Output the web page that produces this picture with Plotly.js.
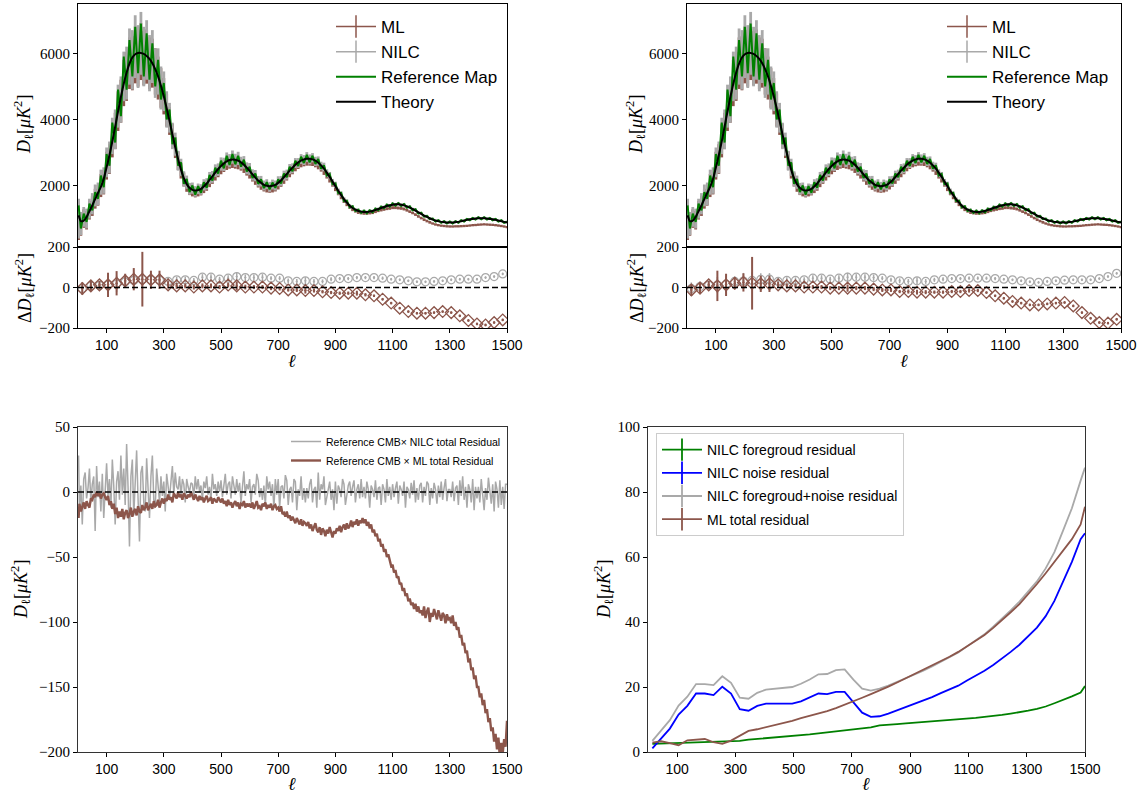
<!DOCTYPE html>
<html><head><meta charset="utf-8">
<script src="https://cdn.plot.ly/plotly-3.0.1.min.js"></script>
<style>html,body{margin:0;padding:0;background:#fff}#plot{width:1143px;height:794px}</style>
</head><body><div id="plot"></div>
<script>
// ---------- multipole grid for the spectra (top panels) ----------
const ell = [2,10,20,30,40,50,60,70,80,90,
100,110,120,130,140,150,160,170,180,190,
200,210,220,230,240,250,260,270,280,290,
300,310,320,330,340,350,360,370,380,390,
400,410,420,430,440,450,460,470,480,490,
500,510,520,530,540,550,560,570,580,590,
600,610,620,630,640,650,660,670,680,690,
700,710,720,730,740,750,760,770,780,790,
800,810,820,830,840,850,860,870,880,890,
900,910,920,930,940,950,960,970,980,990,
1000,1010,1020,1030,1040,1050,1060,1070,1080,1090,
1100,1110,1120,1130,1140,1150,1160,1170,1180,1190,
1200,1210,1220,1230,1240,1250,1260,1270,1280,1290,
1300,1310,1320,1330,1340,1350,1360,1370,1380,1390,
1400,1410,1420,1430,1440,1450,1460,1470,1480,1490,
1500];

const theory = [1100,920,940,1050,1220,1400,1590,1780,1960,2200,
2550,2920,3330,3780,4240,4680,5080,5420,5690,5870,
5970,6010,6010,5980,5920,5830,5700,5520,5300,5020,
4700,4340,3950,3550,3160,2800,2480,2220,2040,1930,
1870,1850,1860,1900,1970,2060,2170,2280,2390,2500,
2590,2670,2730,2770,2790,2780,2750,2700,2630,2540,
2440,2340,2240,2150,2080,2020,1990,1980,1990,2020,
2080,2160,2250,2350,2450,2540,2630,2700,2750,2790,
2810,2810,2790,2750,2690,2610,2510,2390,2260,2120,
1980,1840,1710,1590,1480,1390,1320,1270,1230,1210,
1200,1200,1210,1230,1260,1290,1320,1350,1380,1400,
1420,1430,1430,1420,1400,1370,1330,1290,1240,1190,
1140,1090,1050,1010,970,940,920,900,890,880,
880,880,890,900,920,940,960,980,990,1000,
1010,1010,1010,1000,990,980,960,940,920,900,
880];

const refMap = [1400,700,1150,900,1450,1250,1800,1600,2300,1950,
2950,2600,3900,3300,4900,4100,5900,4900,6400,5300,
6800,5400,6900,5300,6600,5200,6300,5000,5800,4600,
5100,4000,4300,3250,3450,2600,2700,2050,2200,1800,
2000,1720,1980,1780,2100,1930,2320,2150,2540,2360,
2750,2520,2900,2620,2950,2640,2900,2570,2780,2420,
2570,2230,2360,2050,2190,1920,2100,1880,2090,1930,
2190,2060,2360,2250,2570,2430,2750,2590,2870,2680,
2930,2700,2900,2650,2800,2510,2610,2300,2350,2040,
2060,1770,1780,1530,1540,1340,1370,1230,1270,1170,
1240,1160,1250,1190,1300,1250,1360,1310,1420,1360,
1460,1390,1470,1380,1440,1330,1370,1250,1280,1150,
1180,1060,1080,980,1000,910,950,870,920,850,
910,850,920,870,950,910,990,950,1020,970,
1040,980,1040,970,1020,950,990,910,950,870,
910];

const nilc = [1000,850,1050,1000,1300,1450,1700,1750,2100,2150,
2700,2850,3500,3700,4400,4600,5300,5400,5900,5800,
6200,5900,6300,5900,6100,5700,5900,5400,5450,4950,
4850,4300,4050,3500,3250,2750,2550,2200,2100,1900,
1920,1820,1900,1880,2020,2050,2230,2260,2450,2480,
2650,2640,2800,2750,2860,2760,2820,2680,2700,2520,
2500,2320,2300,2130,2130,2000,2040,1960,2030,2000,
2130,2140,2300,2330,2500,2520,2680,2680,2800,2770,
2860,2790,2840,2730,2740,2590,2560,2370,2300,2100,
2020,1820,1740,1570,1510,1370,1350,1260,1250,1200,
1220,1190,1230,1220,1280,1280,1340,1340,1400,1390,
1440,1420,1450,1410,1420,1360,1350,1280,1260,1180,
1160,1080,1070,1000,990,930,940,890,910,870,
900,870,910,890,940,930,980,970,1010,990,
1030,1000,1030,990,1010,970,980,930,940,890,
900];

const nilcErr = [600,350,300,300,300,320,330,340,380,400,
450,480,550,600,650,700,750,800,850,900,
950,950,950,900,900,850,800,750,700,650,
600,550,450,400,350,300,260,230,200,180,
170,160,160,160,170,170,180,180,190,190,
200,200,200,200,200,200,200,190,190,180,
180,170,170,160,160,150,150,150,150,150,
150,150,150,150,150,150,150,150,150,150,
150,150,140,140,140,130,130,120,110,100,
95,90,80,75,70,65,60,55,55,50,
50,50,50,50,50,50,50,50,50,50,
50,50,50,50,50,45,45,45,45,40,
40,40,40,40,35,35,35,35,35,35,
35,35,35,35,35,35,35,35,35,35,
35,35,35,35,35,35,35,35,35,35,
35];

const ml = [900,800,1000,950,1250,1380,1600,1700,2000,2100,
2600,2800,3350,3650,4250,4550,5100,5300,5700,5700,
5950,5850,6050,5850,5900,5700,5700,5450,5250,4950,
4700,4280,3950,3500,3150,2750,2450,2180,2000,1880,
1830,1790,1820,1850,1930,2000,2120,2220,2330,2430,
2530,2600,2660,2700,2720,2700,2680,2630,2560,2470,
2380,2280,2180,2090,2020,1960,1930,1920,1930,1960,
2020,2100,2190,2290,2390,2480,2570,2640,2690,2720,
2740,2740,2720,2680,2620,2540,2440,2320,2190,2060,
1920,1790,1660,1540,1440,1350,1280,1230,1190,1170,
1160,1160,1170,1180,1210,1240,1260,1280,1300,1310,
1330,1330,1320,1310,1290,1250,1210,1170,1120,1065,
1015,965,925,885,850,820,800,785,775,765,
760,760,765,765,770,775,780,790,800,805,
815,820,825,820,815,810,800,790,775,760,
740];

const mlErr = [550,320,280,280,280,300,300,310,350,370,
420,450,500,550,600,650,700,740,780,820,
860,860,860,820,820,780,740,700,650,600,
550,500,420,370,320,280,240,210,190,170,
160,150,150,150,160,160,170,170,180,180,
190,190,190,190,190,190,190,180,180,170,
170,160,160,150,150,140,140,140,140,140,
140,140,140,140,140,140,140,140,140,140,
140,140,130,130,130,120,120,110,100,95,
90,85,75,70,65,60,55,50,50,45,
45,45,45,45,45,45,45,45,45,45,
45,45,45,45,45,40,40,40,40,40,
40,40,40,40,35,35,35,35,35,35,
35,35,35,35,35,35,35,35,35,35,
35,35,35,35,35,35,35,35,35,35,
35];

// ---------- binned residuals (top sub-panels) ----------
const ellBin = [15,45,75,105,135,165,195,225,255,285,
315,345,375,405,435,465,495,525,555,585,
615,645,675,705,735,765,795,825,855,885,
915,945,975,1005,1035,1065,1095,1125,1155,1185,
1215,1245,1275,1305,1335,1365,1395,1425,1455,1485];

const mlRes1 = [-5,8,13,13,21,33,41,41,38,38,
13,8,8,2,8,8,2,12,8,2,
2,2,-3,-5,-12,-12,-15,-15,-21,-25,
-28,-28,-28,-36,-41,-58,-77,-102,-119,-127,
-127,-124,-119,-124,-140,-163,-180,-185,-173,-160];
const mlResErr1 = [30,25,20,60,60,35,55,135,45,45,
18,15,12,12,12,12,10,12,22,12,
10,10,10,10,8,10,15,10,8,8,
8,8,12,8,6,6,6,6,6,6,
6,6,6,6,6,6,6,6,6,6];
const nilcRes1 = [-5,8,10,13,18,28,35,40,38,36,
30,38,38,35,51,51,41,46,54,49,
49,51,46,46,33,30,33,30,30,41,
44,44,49,49,49,46,41,38,33,28,
28,30,33,38,41,41,41,49,54,67];
const nilcResErr1 = [30,25,20,40,40,25,40,40,30,30,
18,15,15,12,15,15,12,15,22,15,
15,15,10,10,12,12,18,12,10,10,
8,8,8,8,8,8,6,6,6,6,
6,6,6,6,6,6,6,6,6,6];

const mlRes2 = [-12,-3,13,8,13,21,25,21,18,18,
13,8,8,2,2,2,-3,-3,-3,-3,
-3,-8,-12,-12,-20,-20,-23,-23,-23,-23,
-20,-20,-15,-15,-25,-41,-53,-69,-77,-86,
-86,-81,-77,-74,-91,-124,-152,-173,-176,-157];
const mlResErr2 = [30,25,20,75,55,30,45,130,40,40,
15,12,12,10,10,10,10,10,18,10,
10,10,10,10,8,10,12,10,8,8,
8,8,10,8,6,6,6,6,6,6,
6,6,6,6,6,6,6,6,6,6];
const nilcRes2 = [-5,5,12,12,15,30,32,35,40,41,
30,35,35,38,46,46,41,46,51,51,
51,49,46,38,33,30,33,30,38,41,
44,44,46,46,46,44,41,38,33,28,
25,30,33,36,38,38,38,44,54,70];
const nilcResErr2 = [30,25,20,40,40,25,40,40,30,30,
18,15,15,12,15,15,12,15,22,15,
15,15,10,10,12,12,18,12,10,10,
8,8,8,8,8,8,6,6,6,6,
6,6,6,6,6,6,6,6,6,6];

// ---------- bottom-left: cross residuals (finer multipole grid) ----------
const ellC = [2,5,10,15,20,25,30,35,40,45,50,55,60,65,70,75,80,85,90,95,
100,105,110,115,120,125,130,135,140,145,150,155,160,165,170,175,180,185,190,195,
200,205,210,215,220,225,230,235,240,245,250,255,260,265,270,275,280,285,290,295,
300,305,310,315,320,325,330,335,340,345,350,355,360,365,370,375,380,385,390,395,
400,405,410,415,420,425,430,435,440,445,450,455,460,465,470,475,480,485,490,495,
500,505,510,515,520,525,530,535,540,545,550,555,560,565,570,575,580,585,590,595,
600,605,610,615,620,625,630,635,640,645,650,655,660,665,670,675,680,685,690,695,
700,705,710,715,720,725,730,735,740,745,750,755,760,765,770,775,780,785,790,795,
800,805,810,815,820,825,830,835,840,845,850,855,860,865,870,875,880,885,890,895,
900,905,910,915,920,925,930,935,940,945,950,955,960,965,970,975,980,985,990,995,
1000,1005,1010,1015,1020,1025,1030,1035,1040,1045,1050,1055,1060,1065,1070,1075,1080,1085,1090,1095,
1100,1105,1110,1115,1120,1125,1130,1135,1140,1145,1150,1155,1160,1165,1170,1175,1180,1185,1190,1195,
1200,1205,1210,1215,1220,1225,1230,1235,1240,1245,1250,1255,1260,1265,1270,1275,1280,1285,1290,1295,
1300,1305,1310,1315,1320,1325,1330,1335,1340,1345,1350,1355,1360,1365,1370,1375,1380,1385,1390,1395,
1400,1405,1410,1415,1420,1425,1430,1435,1440,1445,1450,1455,1460,1465,1470,1475,1480,1485,1490,1495,
1500];

const crossNilc = [28,-12,5,-25,10,15,-5,3,18,-8,6,12,-30,20,-4,8,-15,14,-20,6,
22,-3,10,-12,25,5,-25,8,16,-6,28,-2,18,-10,37,4,-42,12,25,-18,
10,32,-5,-38,15,20,-8,-15,26,3,-20,12,28,-6,-12,18,6,-8,12,-3,
8,-15,14,2,-5,8,20,-2,15,4,2,12,-3,10,6,-8,10,4,0,7,
6,-4,12,2,10,0,5,-6,8,3,12,-2,4,-6,14,2,6,-3,8,0,
9,-4,5,14,-2,6,8,-5,12,3,-2,10,0,7,-8,4,16,-3,6,2,
10,-8,4,6,-2,14,9,-4,3,-6,5,-10,12,2,8,-3,6,-12,10,-2,
10,-12,4,5,-5,13,9,-10,2,4,-8,10,8,-14,2,-3,12,-6,3,-8,
3,-5,6,10,-8,2,4,-12,15,-6,6,2,12,-10,-4,3,8,-6,2,-14,
8,-9,5,2,-4,10,6,-10,-2,5,8,-3,4,9,-8,2,6,-5,10,-4,
4,-5,8,2,-12,5,2,-4,9,-6,3,4,-10,6,2,-8,10,-3,4,-6,
6,-4,3,8,-9,5,2,-3,8,-12,4,2,-5,7,-2,9,-8,3,-6,5,
7,-8,4,-3,8,6,-10,3,-5,7,2,-9,5,-4,8,-6,3,10,-7,2,
2,-4,8,-7,3,5,-10,9,-3,12,-6,4,-12,6,2,-8,10,-14,4,-5,
4,-8,10,-3,-14,3,-6,11,2,-9,6,-15,8,2,-12,9,-10,4,-13,6,
6];

const crossMl = [-20,-9,-15,-11,-8,-13,-7,-10,-12,-5,-6,-2,-4,0,-3,-1,-5,-2,-1,-4,
-6,-3,-10,-7,-13,-9,-17,-12,-20,-15,-19,-13,-21,-16,-14,-20,-17,-12,-19,-15,
-13,-18,-11,-15,-16,-10,-14,-12,-8,-14,-11,-9,-13,-7,-11,-10,-6,-12,-8,-5,
-9,-5,-7,-2,-6,-4,-8,-1,-3,-5,0,-4,-2,-6,-1,-3,-5,-2,-4,0,
-4,-6,-2,-5,-7,-3,-6,-4,-8,-5,-3,-7,-6,-4,-9,-5,-7,-8,-4,-6,
-8,-5,-9,-7,-11,-6,-10,-8,-12,-9,-7,-11,-8,-13,-9,-10,-7,-12,-9,-11,
-9,-12,-8,-13,-10,-7,-12,-11,-14,-9,-11,-8,-13,-10,-12,-9,-14,-11,-10,-13,
-12,-15,-11,-17,-16,-19,-15,-20,-18,-22,-19,-21,-24,-20,-23,-25,-21,-26,-23,-24,
-26,-23,-28,-25,-30,-27,-24,-29,-31,-27,-33,-28,-30,-34,-29,-32,-27,-31,-35,-30,
-32,-28,-30,-26,-31,-27,-25,-29,-24,-28,-26,-22,-27,-23,-25,-21,-26,-22,-24,-20,
-24,-21,-26,-23,-28,-25,-31,-29,-34,-32,-38,-36,-42,-40,-46,-44,-50,-48,-54,-57,
-56,-62,-60,-66,-65,-71,-70,-76,-74,-80,-78,-84,-82,-87,-85,-90,-86,-92,-88,-93,
-91,-95,-88,-97,-92,-89,-100,-93,-96,-90,-94,-98,-91,-96,-99,-93,-95,-101,-94,-98,
-97,-101,-95,-103,-100,-106,-104,-112,-110,-118,-116,-124,-122,-131,-128,-137,-135,-144,-141,-150,
-150,-158,-155,-164,-160,-170,-167,-177,-174,-184,-181,-192,-186,-198,-189,-204,-193,-201,-190,-196,
-176];

// ---------- bottom-right: residual power ----------
const ellR = [15,45,75,105,135,165,195,225,255,285,
315,345,375,405,435,465,495,525,555,585,
615,645,675,705,735,765,795,825,855,885,
915,945,975,1005,1035,1065,1095,1125,1155,1185,
1215,1245,1275,1305,1335,1365,1395,1425,1455,1485,1500];
const fgRes = [2.5,2.6,2.6,2.7,2.8,2.9,2.9,3.0,3.1,3.2,
3.4,3.8,4.0,4.2,4.4,4.7,4.9,5.2,5.4,5.7,
6.0,6.4,6.8,7.0,7.3,7.6,8.2,8.5,8.6,8.8,
9.0,9.1,9.3,9.6,9.8,10.0,10.2,10.5,10.8,11.0,
11.4,11.8,12.2,12.7,13.3,14.0,15.0,16.0,17.1,18.3,20.3];
const noiseRes = [1.1,4.0,7.2,11.5,14.2,18.0,18.0,17.5,20.1,18.0,
13.2,12.7,14.2,14.9,14.9,14.9,14.9,15.6,16.9,18.0,
17.8,18.5,18.5,15.2,12.1,10.8,11.0,11.8,12.8,13.9,
14.9,15.9,16.9,18.1,19.2,20.4,22.0,23.5,25.0,26.8,
28.7,30.8,33.0,35.5,38.3,41.8,46.5,52.5,58.5,65.5,67.3];
const fgNoiseRes = [3.4,6.6,9.8,14.3,17.0,20.9,20.9,20.6,23.3,21.3,
16.7,16.4,18.2,19.2,19.5,19.7,20.0,21.0,22.3,23.9,
24.0,25.2,25.4,22.3,19.5,18.9,19.5,20.4,21.5,22.6,
23.8,25.0,26.3,27.8,29.2,30.6,32.5,34.3,36.2,38.6,
41.0,43.6,46.3,49.3,52.5,56.5,61.5,68.2,75.0,83.5,87.5];
const mlTotRes = [2.9,3.3,2.7,2.1,3.6,3.9,4.0,3.0,2.5,3.5,
5.1,6.5,7.0,7.6,8.3,9.0,9.6,10.4,11.1,11.8,
12.6,13.5,14.5,15.5,16.7,17.8,18.9,20.1,21.4,22.7,
24.0,25.3,26.6,27.9,29.3,30.8,32.6,34.2,36.0,38.2,
40.5,43.0,45.5,48.5,51.7,55.0,58.5,62.0,65.5,70.0,75.5];

const xTicks = [100,300,500,700,900,1100,1300,1500];

// ---------- styling ----------
const W = 1143, H = 794;
const SERIF = 'Liberation Serif, DejaVu Serif, serif';
const SANS = 'Liberation Sans, DejaVu Sans, sans-serif';
const BROWN = '#8c564b', GRAY = '#a9a9a9', GREEN = '#008000', BLUE = '#0000ff';

function px(a,b){return [a/W, b/W];}
function py(top,bottom){return [1-bottom/H, 1-top/H];}

function baseAxis(extra){
  return Object.assign({showline:true, mirror:true, linecolor:'#000', linewidth:1,
    showgrid:false, zeroline:false, ticks:'outside', ticklen:4, tickwidth:1, tickcolor:'#000',
    fixedrange:true}, extra);
}

const traces = [];
function spectrumPanel(xa, ya, leg){
  traces.push({x:ell, y:ml, xaxis:xa, yaxis:ya, type:'scatter', mode:'lines',
    line:{color:BROWN, width:1}, error_y:{type:'data', array:mlErr, visible:true, thickness:2.8, width:0, color:BROWN},
    showlegend:false, hoverinfo:'skip'});
  traces.push({x:ell, y:nilc, xaxis:xa, yaxis:ya, type:'scatter', mode:'lines',
    line:{color:GRAY, width:1.2}, error_y:{type:'data', array:nilcErr, visible:true, thickness:2.8, width:0, color:GRAY},
    showlegend:false, hoverinfo:'skip'});
  traces.push({x:ell, y:refMap, xaxis:xa, yaxis:ya, type:'scatter', mode:'lines',
    line:{color:GREEN, width:2}, showlegend:false, hoverinfo:'skip'});
  traces.push({x:ell, y:theory, xaxis:xa, yaxis:ya, type:'scatter', mode:'lines',
    line:{color:'#000', width:2, shape:'spline', smoothing:0.6}, showlegend:false, hoverinfo:'skip'});
  const entries = [['ML',BROWN,true],['NILC',GRAY,true],['Reference Map',GREEN,false],['Theory','#000',false]];
  entries.forEach((e,i)=>{
    traces.push({x:[null], y:[null], xaxis:xa, yaxis:ya, type:'scatter',
      mode: e[2] ? 'lines+markers' : 'lines', name:e[0], legend:leg, legendgroup:leg+'g'+i,
      line:{color:e[1], width: e[2]?1.5:2},
      marker:{symbol:'line-ns', size:16, color:e[1], line:{width:1.5, color:e[1]}}});
  });
}
function residualPanel(xa, ya, nres, nerr, mres, merr){
  traces.push({x:ellBin, y:nres, xaxis:xa, yaxis:ya, type:'scatter', mode:'markers',
    marker:{symbol:'circle-open-dot', size:8, color:GRAY, line:{width:1.2, color:GRAY}},
    error_y:{type:'data', array:nerr, visible:true, thickness:1.5, width:0, color:GRAY},
    showlegend:false, hoverinfo:'skip'});
  traces.push({x:ellBin, y:mres, xaxis:xa, yaxis:ya, type:'scatter', mode:'markers',
    marker:{symbol:'diamond-open-dot', size:9, color:BROWN, line:{width:1.3, color:BROWN}},
    error_y:{type:'data', array:merr, visible:true, thickness:2, width:0, color:BROWN},
    showlegend:false, hoverinfo:'skip'});
}

spectrumPanel('x','y','legend');
residualPanel('x2','y2', nilcRes1, nilcResErr1, mlRes1, mlResErr1);
spectrumPanel('x3','y3','legend2');
residualPanel('x4','y4', nilcRes2, nilcResErr2, mlRes2, mlResErr2);

// bottom-left
traces.push({x:ellC, y:crossNilc, xaxis:'x5', yaxis:'y5', type:'scatter', mode:'lines',
  line:{color:GRAY, width:1.5}, name:'Reference CMB× NILC total Residual', legend:'legend3', hoverinfo:'skip'});
traces.push({x:ellC, y:crossMl, xaxis:'x5', yaxis:'y5', type:'scatter', mode:'lines',
  line:{color:BROWN, width:2.4}, name:'Reference CMB × ML total Residual', legend:'legend3', hoverinfo:'skip'});

// bottom-right
const br = [['NILC foregroud residual', fgRes, GREEN],
            ['NILC noise residual', noiseRes, BLUE],
            ['NILC foregroud+noise residual', fgNoiseRes, GRAY],
            ['ML total residual', mlTotRes, BROWN]];
br.forEach(b=>{
  traces.push({x:ellR, y:b[1], xaxis:'x6', yaxis:'y6', type:'scatter', mode:'lines',
    line:{color:b[2], width:1.8}, showlegend:false, hoverinfo:'skip'});
});
br.forEach((b,i)=>{
  traces.push({x:[null], y:[null], xaxis:'x6', yaxis:'y6', type:'scatter', mode:'lines+markers',
    name:b[0], legend:'legend4', legendgroup:'l4g'+i, line:{color:b[2], width:1.8},
    marker:{symbol:'line-ns', size:16, color:b[2], line:{width:1.8, color:b[2]}}});
});

const yTickFont = {family:SERIF, size:15, color:'#000'};
const xTickFont = {family:SANS, size:14, color:'#000'};

const layout = {
  width:W, height:H, margin:{l:0,r:0,t:0,b:0}, paper_bgcolor:'#fff', plot_bgcolor:'#fff',
  showlegend:true,
  xaxis: baseAxis({domain:px(78,507), anchor:'y', range:[0,1500], showticklabels:false, ticks:''}),
  yaxis: baseAxis({domain:py(4,247), anchor:'x', range:[140,7490], tickvals:[2000,4000,6000], tickfont:yTickFont}),
  xaxis2: baseAxis({domain:px(78,507), anchor:'y2', range:[0,1500], tickvals:xTicks, tickfont:xTickFont}),
  yaxis2: baseAxis({domain:py(247,328), anchor:'x2', range:[-200,200], tickvals:[-200,0,200], tickfont:yTickFont}),
  xaxis3: baseAxis({domain:px(687,1121), anchor:'y3', range:[0,1500], showticklabels:false, ticks:''}),
  yaxis3: baseAxis({domain:py(4,247), anchor:'x3', range:[140,7490], tickvals:[2000,4000,6000], tickfont:yTickFont}),
  xaxis4: baseAxis({domain:px(687,1121), anchor:'y4', range:[0,1500], tickvals:xTicks, tickfont:xTickFont}),
  yaxis4: baseAxis({domain:py(247,328), anchor:'x4', range:[-200,200], tickvals:[-200,0,200], tickfont:yTickFont}),
  xaxis5: baseAxis({domain:px(78,507), anchor:'y5', range:[0,1500], tickvals:xTicks, tickfont:xTickFont, linecolor:'#333'}),
  yaxis5: baseAxis({domain:py(427,752), anchor:'x5', range:[-200,50], tickvals:[-200,-150,-100,-50,0,50], tickfont:yTickFont, linecolor:'#333'}),
  xaxis6: baseAxis({domain:px(648,1085), anchor:'y6', range:[0,1500], tickvals:xTicks, tickfont:xTickFont, linecolor:'#333'}),
  yaxis6: baseAxis({domain:py(427,752), anchor:'x6', range:[0,100], tickvals:[0,20,40,60,80,100], tickfont:yTickFont, linecolor:'#333'}),
  legend: {x:331/W, y:1-9/H, xanchor:'left', yanchor:'top', bgcolor:'rgba(0,0,0,0)', borderwidth:0,
    font:{family:SANS, size:17, color:'#000'}, itemwidth:40, tracegroupgap:0},
  legend2: {x:942/W, y:1-9/H, xanchor:'left', yanchor:'top', bgcolor:'rgba(0,0,0,0)', borderwidth:0,
    font:{family:SANS, size:17, color:'#000'}, itemwidth:40, tracegroupgap:0},
  legend3: {x:286/W, y:1-427/H, xanchor:'left', yanchor:'top', bgcolor:'rgba(0,0,0,0)', borderwidth:0,
    font:{family:SANS, size:10.5, color:'#000'}, itemwidth:30},
  legend4: {x:656/W, y:1-433/H, xanchor:'left', yanchor:'top', bgcolor:'rgba(255,255,255,0.8)', borderwidth:1,
    bordercolor:'#cccccc', font:{family:SANS, size:14, color:'#000'}, itemwidth:40, tracegroupgap:2},
  shapes: [
    {type:'line', xref:'x2', yref:'y2', x0:0, x1:1500, y0:0, y1:0, line:{color:'#000', width:1.5, dash:'6px,3px'}},
    {type:'line', xref:'x4', yref:'y4', x0:0, x1:1500, y0:0, y1:0, line:{color:'#000', width:1.5, dash:'6px,3px'}},
    {type:'line', xref:'x5', yref:'y5', x0:0, x1:1500, y0:0, y1:0, line:{color:'#000', width:1.5, dash:'6px,3px'}}
  ],
  annotations: []
};

const DL = '<i>D</i><sub>ℓ</sub>[<i>μK</i><sup>2</sup>]';
const DDL = 'Δ<i>D</i><sub>ℓ</sub>[<i>μK</i><sup>2</sup>]';
function ann(text, x, y, rot, size){
  layout.annotations.push({text:text, xref:'paper', yref:'paper', x:x/W, y:1-y/H, xanchor:'center', yanchor:'middle',
    showarrow:false, textangle:rot, font:{family:SERIF, size:size||18, color:'#000'}});
}
ann(DL, 24, 125, -90);
ann(DDL, 24, 288, -90);
ann(DL, 636, 125, -90);
ann(DDL, 636, 288, -90);
ann('<i>ℓ</i>', 292, 361, 0);
ann('<i>ℓ</i>', 904, 361, 0);
ann(DL, 20, 590, -90);
ann('<i>ℓ</i>', 292, 784, 0);
ann(DL, 603, 590, -90);
ann('<i>ℓ</i>', 866, 784, 0);

Plotly.newPlot('plot', traces, layout, {staticPlot:true, displayModeBar:false});
</script>
</body></html>
